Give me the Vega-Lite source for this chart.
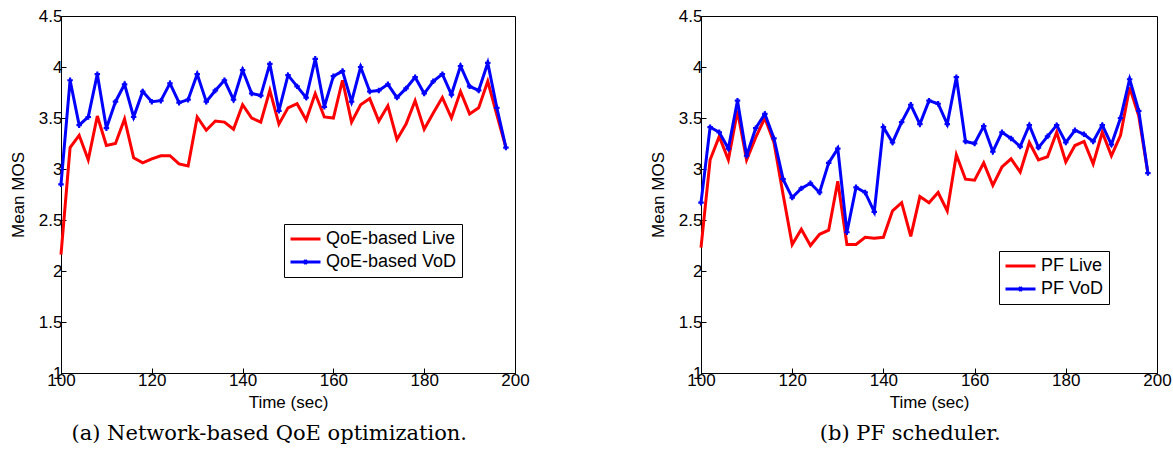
{
  "$schema": "https://vega.github.io/schema/vega-lite/v6.json",
  "background": "white",
  "padding": {"left": 8, "top": 6, "right": 5, "bottom": 5},
  "bounds": "flush",
  "spacing": 186,
  "datasets": {
    "qoe": [
      {"t":100,"live":2.16,"vod":2.85},{"t":102,"live":3.21,"vod":3.87},{"t":104,"live":3.33,"vod":3.43},{"t":106,"live":3.09,"vod":3.51},{"t":108,"live":3.52,"vod":3.93},
      {"t":110,"live":3.23,"vod":3.40},{"t":112,"live":3.25,"vod":3.66},{"t":114,"live":3.49,"vod":3.83},{"t":116,"live":3.11,"vod":3.51},{"t":118,"live":3.06,"vod":3.76},
      {"t":120,"live":3.10,"vod":3.66},{"t":122,"live":3.13,"vod":3.67},{"t":124,"live":3.13,"vod":3.84},{"t":126,"live":3.05,"vod":3.65},{"t":128,"live":3.03,"vod":3.68},
      {"t":130,"live":3.51,"vod":3.93},{"t":132,"live":3.38,"vod":3.66},{"t":134,"live":3.47,"vod":3.77},{"t":136,"live":3.46,"vod":3.87},{"t":138,"live":3.39,"vod":3.68},
      {"t":140,"live":3.63,"vod":3.97},{"t":142,"live":3.50,"vod":3.74},{"t":144,"live":3.46,"vod":3.72},{"t":146,"live":3.77,"vod":4.03},{"t":148,"live":3.44,"vod":3.57},
      {"t":150,"live":3.60,"vod":3.92},{"t":152,"live":3.64,"vod":3.81},{"t":154,"live":3.48,"vod":3.70},{"t":156,"live":3.74,"vod":4.08},{"t":158,"live":3.51,"vod":3.61},
      {"t":160,"live":3.50,"vod":3.91},{"t":162,"live":3.87,"vod":3.96},{"t":164,"live":3.46,"vod":3.66},{"t":166,"live":3.63,"vod":4.00},{"t":168,"live":3.69,"vod":3.76},
      {"t":170,"live":3.47,"vod":3.77},{"t":172,"live":3.62,"vod":3.83},{"t":174,"live":3.29,"vod":3.70},{"t":176,"live":3.44,"vod":3.79},{"t":178,"live":3.67,"vod":3.90},
      {"t":180,"live":3.39,"vod":3.74},{"t":182,"live":3.55,"vod":3.86},{"t":184,"live":3.70,"vod":3.93},{"t":186,"live":3.50,"vod":3.73},{"t":188,"live":3.76,"vod":4.01},
      {"t":190,"live":3.54,"vod":3.81},{"t":192,"live":3.60,"vod":3.77},{"t":194,"live":3.86,"vod":4.04},{"t":196,"live":3.53,"vod":3.60},{"t":198,"live":3.21,"vod":3.21}
    ],
    "pf": [
      {"t":100,"live":2.23,"vod":2.67},{"t":102,"live":3.09,"vod":3.41},{"t":104,"live":3.32,"vod":3.36},{"t":106,"live":3.09,"vod":3.20},{"t":108,"live":3.57,"vod":3.67},
      {"t":110,"live":3.09,"vod":3.13},{"t":112,"live":3.31,"vod":3.40},{"t":114,"live":3.50,"vod":3.54},{"t":116,"live":3.26,"vod":3.30},{"t":118,"live":2.75,"vod":2.90},
      {"t":120,"live":2.26,"vod":2.72},{"t":122,"live":2.41,"vod":2.81},{"t":124,"live":2.25,"vod":2.86},{"t":126,"live":2.36,"vod":2.77},{"t":128,"live":2.40,"vod":3.06},
      {"t":130,"live":2.88,"vod":3.20},{"t":132,"live":2.26,"vod":2.38},{"t":134,"live":2.26,"vod":2.82},{"t":136,"live":2.33,"vod":2.77},{"t":138,"live":2.32,"vod":2.58},
      {"t":140,"live":2.33,"vod":3.41},{"t":142,"live":2.59,"vod":3.26},{"t":144,"live":2.67,"vod":3.46},{"t":146,"live":2.34,"vod":3.63},{"t":148,"live":2.73,"vod":3.44},
      {"t":150,"live":2.67,"vod":3.67},{"t":152,"live":2.77,"vod":3.64},{"t":154,"live":2.59,"vod":3.44},{"t":156,"live":3.14,"vod":3.90},{"t":158,"live":2.90,"vod":3.27},
      {"t":160,"live":2.89,"vod":3.25},{"t":162,"live":3.06,"vod":3.42},{"t":164,"live":2.84,"vod":3.17},{"t":166,"live":3.02,"vod":3.36},{"t":168,"live":3.10,"vod":3.30},
      {"t":170,"live":2.97,"vod":3.22},{"t":172,"live":3.26,"vod":3.43},{"t":174,"live":3.09,"vod":3.21},{"t":176,"live":3.12,"vod":3.32},{"t":178,"live":3.36,"vod":3.43},
      {"t":180,"live":3.07,"vod":3.26},{"t":182,"live":3.23,"vod":3.38},{"t":184,"live":3.27,"vod":3.34},{"t":186,"live":3.05,"vod":3.27},{"t":188,"live":3.36,"vod":3.43},
      {"t":190,"live":3.13,"vod":3.24},{"t":192,"live":3.33,"vod":3.50},{"t":194,"live":3.80,"vod":3.88},{"t":196,"live":3.52,"vod":3.57},{"t":198,"live":2.96,"vod":2.96}
    ]
  },
  "config": {
    "font": "Liberation Sans",
    "view": {"stroke": "black", "strokeWidth": 1},
    "axis": {
      "grid": false,
      "domainColor": "black",
      "tickColor": "black",
      "labelColor": "black",
      "titleColor": "black",
      "labelFont": "Liberation Sans",
      "titleFont": "Liberation Sans",
      "labelFontSize": 17,
      "titleFontSize": 17,
      "titleFontWeight": "normal",
      "tickSize": -5
    },
    "axisX": {"labelPadding": 4, "titlePadding": 6, "labelFlush": false},
    "axisY": {"labelPadding": 4, "titlePadding": 11},
    "legend": {
      "orient": "none",
      "title": null,
      "strokeColor": "black",
      "fillColor": "white",
      "padding": 5,
      "cornerRadius": 0,
      "labelFont": "Liberation Sans",
      "labelFontSize": 18,
      "labelColor": "black",
      "labelOffset": 4,
      "rowPadding": 3,
      "clipHeight": 20,
      "symbolType": "stroke",
      "symbolSize": 900,
      "symbolStrokeWidth": 3
    },
    "title": {"font": "DejaVu Serif", "fontSize": 21, "fontWeight": "normal", "color": "black"}
  },
  "resolve": {"scale": {"color": "independent"}, "legend": {"color": "independent"}},
  "hconcat": [
    {
      "width": 454,
      "height": 357,
      "title": {"text": "(a) Network-based QoE optimization.", "orient": "bottom", "anchor": "middle", "frame": "bounds", "offset": 13},
      "data": {"name": "qoe"},
      "encoding": {
        "x": {"field": "t", "type": "quantitative", "scale": {"domain": [100, 200], "nice": false}, "axis": {"values": [100, 120, 140, 160, 180, 200], "title": "Time (sec)"}}
      },
      "layer": [
        {
          "mark": {"type": "line", "strokeWidth": 3},
          "encoding": {
            "y": {"field": "live", "type": "quantitative", "scale": {"domain": [1, 4.5], "nice": false, "zero": false}, "axis": {"values": [1, 1.5, 2, 2.5, 3, 3.5, 4, 4.5], "format": "~g", "title": "Mean MOS"}},
            "color": {"datum": "QoE-based Live", "scale": {"domain": ["QoE-based Live", "QoE-based VoD"], "range": ["#ff0000", "#0000ff"]},
              "legend": {"legendX": 223, "legendY": 208,
                "encode": {"symbols": {"update": {"shape": {"signal": "indexof(datum.value,'VoD')>=0 ? 'M-1,0L1,0M-0.12,-0.12L0.12,0.12M-0.12,0.12L0.12,-0.12' : 'stroke'"}}}}}}
          }
        },
        {
          "mark": {"type": "line", "strokeWidth": 3},
          "encoding": {
            "y": {"field": "vod", "type": "quantitative", "title": "Mean MOS"},
            "color": {"datum": "QoE-based VoD"}
          }
        },
        {
          "mark": {"type": "point", "shape": "cross", "filled": true, "size": 30, "color": "#0000ff", "opacity": 1},
          "encoding": {
            "y": {"field": "vod", "type": "quantitative", "title": "Mean MOS"}
          }
        }
      ]
    },
    {
      "width": 456,
      "height": 357,
      "title": {"text": "(b) PF scheduler.", "orient": "bottom", "anchor": "middle", "frame": "bounds", "offset": 13},
      "data": {"name": "pf"},
      "encoding": {
        "x": {"field": "t", "type": "quantitative", "scale": {"domain": [100, 200], "nice": false}, "axis": {"values": [100, 120, 140, 160, 180, 200], "title": "Time (sec)"}}
      },
      "layer": [
        {
          "mark": {"type": "line", "strokeWidth": 3},
          "encoding": {
            "y": {"field": "live", "type": "quantitative", "scale": {"domain": [1, 4.5], "nice": false, "zero": false}, "axis": {"values": [1, 1.5, 2, 2.5, 3, 3.5, 4, 4.5], "format": "~g", "title": "Mean MOS"}},
            "color": {"datum": "PF Live", "scale": {"domain": ["PF Live", "PF VoD"], "range": ["#ff0000", "#0000ff"]},
              "legend": {"legendX": 298, "legendY": 235,
                "encode": {"symbols": {"update": {"shape": {"signal": "indexof(datum.value,'VoD')>=0 ? 'M-1,0L1,0M-0.12,-0.12L0.12,0.12M-0.12,0.12L0.12,-0.12' : 'stroke'"}}}}}}
          }
        },
        {
          "mark": {"type": "line", "strokeWidth": 3},
          "encoding": {
            "y": {"field": "vod", "type": "quantitative", "title": "Mean MOS"},
            "color": {"datum": "PF VoD"}
          }
        },
        {
          "mark": {"type": "point", "shape": "cross", "filled": true, "size": 30, "color": "#0000ff", "opacity": 1},
          "encoding": {
            "y": {"field": "vod", "type": "quantitative", "title": "Mean MOS"}
          }
        }
      ]
    }
  ]
}
